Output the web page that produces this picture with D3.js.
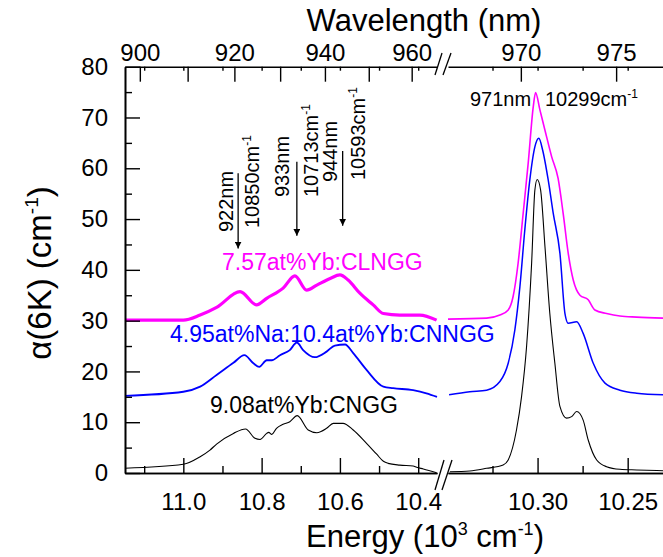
<!DOCTYPE html>
<html><head><meta charset="utf-8">
<script src="https://cdn.jsdelivr.net/npm/d3@7"></script>
<style>
body{margin:0;background:#fff}
text{font-family:"Liberation Sans",Arial,sans-serif;fill:#000}
</style>
</head><body>
<svg id="c" width="663" height="557"></svg>
<script>
// ---------- DATA (energy in 10^3 cm^-1, absorption in cm^-1) ----------
// left segment (broad bands)
const blackL_E = [11.149,11.000,10.957,10.932,10.915,10.872,10.841,10.817,10.804,10.787,10.782,10.774,10.762,10.745,10.728,10.709,10.681,10.659,10.634,10.617,10.592,10.566,10.532,10.506,10.489,10.477,10.447,10.413,10.404,10.387,10.353];
const blackL_V = [0.93,1.71,3.2,4.5,5.7,7.8,8.66,6.83,6.6,7.8,8.0,7.6,8.8,9.58,10.1,11.3,8.47,7.94,8.8,9.78,9.78,8.47,5.85,3.7,2.3,1.9,1.55,1.38,1.12,0.79,0.06];
const blueL_E = [11.149,11.000,10.957,10.915,10.872,10.844,10.821,10.806,10.787,10.774,10.753,10.728,10.710,10.694,10.664,10.634,10.613,10.587,10.566,10.532,10.489,10.464,10.413,10.379,10.352];
const blueL_V = [15.2,16.0,17.0,19.3,21.7,23.2,21.6,20.9,22.2,22.2,23.2,24.2,25.7,24.2,22.8,23.9,25.1,25.3,23.6,20.3,17.0,16.7,16.3,15.7,15.0];
const magL_E = [11.149,11.000,10.957,10.915,10.855,10.813,10.787,10.745,10.715,10.685,10.659,10.625,10.600,10.579,10.549,10.515,10.489,10.447,10.396,10.353];
const magL_V = [30.1,30.1,31.1,32.6,35.7,33.1,34.4,36.4,38.8,36.0,37.0,38.3,39.0,38.0,35.4,33.1,31.4,31.1,31.1,30.1];
// right segment (zero-phonon line)
const blackR_E = [10.3487,10.3376,10.3283,10.3191,10.3163,10.3117,10.3089,10.3061,10.3033,10.3015,10.3002,10.2983,10.2959,10.2932,10.2904,10.2876,10.2839,10.2811,10.2783,10.2747,10.2719,10.2672,10.2617,10.2543,10.2450,10.2304];
const blackR_V = [0.26,0.4,0.92,1.58,2.56,8.47,15.0,24.9,41.3,55.7,57.8,55.7,44.6,31.4,21.6,13.1,10.8,11.1,12.1,10.4,6.5,2.56,1.24,0.73,0.6,0.45];
const blueR_E = [10.3491,10.3376,10.3283,10.3209,10.3163,10.3126,10.3098,10.3071,10.3043,10.3015,10.2993,10.2972,10.2941,10.2913,10.2876,10.2848,10.2830,10.2783,10.2747,10.2691,10.2626,10.2543,10.2450,10.2304];
const blueR_V = [15.4,16.0,16.3,18.0,21.6,28.2,36.7,47.8,57.7,64.2,65.9,63.6,57.7,51.1,43.3,31.4,29.5,29.8,27.5,21.6,17.7,16.3,15.7,15.4];
const magR_E = [10.3497,10.3283,10.3209,10.3163,10.3136,10.3108,10.3080,10.3052,10.3024,10.3011,10.2987,10.2959,10.2922,10.2886,10.2858,10.2830,10.2802,10.2765,10.2719,10.2682,10.2617,10.2543,10.2450,10.2304];
const magR_V = [30.3,30.5,31.1,32.1,34.7,41.3,51.1,61.0,72.1,74.9,71.5,67.5,62.3,58.0,51.1,43.3,38.0,35.0,34.1,32.1,31.4,30.9,30.7,30.5];

// ticks
const yMajor = [0,10,20,30,40,50,60,70,80];
const yMinor = [5,15,25,35,45,55,65,75];
const xMajorL = [11.0,10.8,10.6,10.4];
const xMinorL = [11.1,10.9,10.7,10.5];
const xMajorR = [10.30,10.25];
const xMinorR = [10.325,10.275];
const wlTicksL = [900,910,920,930,940,950,960];
const wlLabelsL = [900,920,940,960];
const wlTicksR = [970,975];

// annotations
const arrowsE = [10.860,10.710,10.593];
const arrowsFrom = [59.0,61.3,63.4];
const arrowsTo = [44.2,46.7,48.7];

// ---------- SCALES ----------
const svg = d3.select("#c");
const yS = d3.scaleLinear().domain([0,80]).range([473,66.7]);
const xL = d3.scaleLinear().domain([11.149,10.352]).range([125,437]);
const xR = d3.scaleLinear().domain([10.3497,10.2304]).range([448,663]);
const yTop = 66.7, yBot = 473;

function styleAxis(g){
  g.selectAll("path.domain").attr("stroke","#000").attr("stroke-width",1.6);
  g.selectAll(".tick line").attr("stroke","#000").attr("stroke-width",1.4);
  g.selectAll("text").style("font-family","'Liberation Sans',Arial,sans-serif").attr("fill","#000");
}

// ---------- CURVES ----------
function drawCurve(xs, E, V, color, w){
  const pts = E.map((e,i)=>[e,V[i]]);
  const line = d3.line().x(d=>xs(d[0])).y(d=>yS(d[1])).curve(d3.curveMonotoneX);
  svg.append("path").attr("d",line(pts)).attr("fill","none")
    .attr("stroke",color).attr("stroke-width",w).attr("stroke-linejoin","round");
}
drawCurve(xL, magL_E, magL_V, "#ff00ff", 3.2);
drawCurve(xR, magR_E, magR_V, "#ff00ff", 1.6);
drawCurve(xL, blueL_E, blueL_V, "#0000ff", 1.8);
drawCurve(xR, blueR_E, blueR_V, "#0000ff", 1.5);
drawCurve(xL, blackL_E, blackL_V, "#000", 1.1);
drawCurve(xR, blackR_E, blackR_V, "#000", 1.1);

// ---------- AXES ----------
const fs = "24px";
let g;
g = svg.append("g").attr("transform",`translate(0,${yBot})`)
  .call(d3.axisBottom(xL).tickValues(xMajorL).tickSize(-15).tickSizeOuter(0).tickPadding(20).tickFormat(d3.format(".1f")));
styleAxis(g); g.selectAll("text").style("font-size",fs);
g = svg.append("g").attr("transform",`translate(0,${yBot})`)
  .call(d3.axisBottom(xL).tickValues(xMinorL).tickSize(-7).tickSizeOuter(0).tickFormat(""));
styleAxis(g);
g = svg.append("g").attr("transform",`translate(0,${yBot})`)
  .call(d3.axisBottom(xR).tickValues(xMajorR).tickSize(-15).tickSizeOuter(0).tickPadding(20).tickFormat(d3.format(".2f")));
styleAxis(g); g.selectAll("text").style("font-size",fs);
g = svg.append("g").attr("transform",`translate(0,${yBot})`)
  .call(d3.axisBottom(xR).tickValues(xMinorR).tickSize(-7).tickSizeOuter(0).tickFormat(""));
styleAxis(g);

// top (wavelength)
g = svg.append("g").attr("transform",`translate(0,${yTop})`)
  .call(d3.axisTop(xL).tickValues(wlTicksL.map(l=>1e4/l)).tickSize(-15).tickSizeOuter(0).tickPadding(6)
    .tickFormat(d=>{const l=Math.round(1e4/d);return wlLabelsL.includes(l)?String(l):"";}));
styleAxis(g); g.selectAll("text").style("font-size",fs);
g = svg.append("g").attr("transform",`translate(0,${yTop})`)
  .call(d3.axisTop(xR).tickValues(wlTicksR.map(l=>1e4/l)).tickSize(-15).tickSizeOuter(0).tickPadding(6)
    .tickFormat(d=>String(Math.round(1e4/d))));
styleAxis(g); g.selectAll("text").style("font-size",fs);
// small energy ticks mirrored on top
g = svg.append("g").attr("transform",`translate(0,${yTop})`)
  .call(d3.axisTop(xL).tickValues(xMajorL.concat(xMinorL)).tickSize(-4).tickSizeOuter(0).tickFormat(""));
styleAxis(g); g.select("path.domain").remove();
g = svg.append("g").attr("transform",`translate(0,${yTop})`)
  .call(d3.axisTop(xR).tickValues(xMajorR.concat(xMinorR)).tickSize(-4).tickSizeOuter(0).tickFormat(""));
styleAxis(g); g.select("path.domain").remove();

// left
g = svg.append("g").attr("transform",`translate(125,0)`)
  .call(d3.axisLeft(yS).tickValues(yMajor).tickSize(-15).tickSizeOuter(0).tickPadding(17));
styleAxis(g); g.selectAll("text").style("font-size",fs);
g = svg.append("g").attr("transform",`translate(125,0)`)
  .call(d3.axisLeft(yS).tickValues(yMinor).tickSize(-7).tickSizeOuter(0).tickFormat(""));
styleAxis(g);

// break marks
const brk = svg.append("g").attr("stroke","#000").attr("stroke-width",1.3);
[[435,490,444,460],[442,490,452,460],[435,75,442,53],[443,75,451,53]].forEach(s=>{
  brk.append("line").attr("x1",s[0]).attr("y1",s[1]).attr("x2",s[2]).attr("y2",s[3]);
});

// ---------- TITLES ----------
svg.append("text").attr("x",424).attr("y",31).attr("text-anchor","middle")
  .style("font-size","31px").text("Wavelength (nm)");
const et = svg.append("text").attr("x",425).attr("y",547).attr("text-anchor","middle").style("font-size","31px");
et.append("tspan").text("Energy (10");
et.append("tspan").attr("dy",-12).style("font-size","18px").text("3");
et.append("tspan").attr("dy",12).text(" cm");
et.append("tspan").attr("dy",-12).style("font-size","18px").text("-1");
et.append("tspan").attr("dy",12).text(")");
const yt = svg.append("text").attr("transform","translate(51,273) rotate(-90)").attr("text-anchor","middle").style("font-size","33px");
yt.append("tspan").text("α(6K) (cm");
yt.append("tspan").attr("dy",-13).style("font-size","19px").text("-1");
yt.append("tspan").attr("dy",13).text(")");

// ---------- SERIES LABELS ----------
svg.append("text").attr("x",222).attr("y",270).style("font-size","23px").style("fill","#ff00ff").text("7.57at%Yb:CLNGG");
svg.append("text").attr("x",170).attr("y",342).style("font-size","23px").style("fill","#0000ff").text("4.95at%Na:10.4at%Yb:CNNGG");
svg.append("text").attr("x",210).attr("y",413).style("font-size","23px").text("9.08at%Yb:CNGG");

// ---------- ARROWS ----------
const defs = svg.append("defs");
defs.append("marker").attr("id","ah").attr("viewBox","0 0 10 10").attr("refX",10).attr("refY",5)
  .attr("markerWidth",7).attr("markerHeight",7).attr("markerUnits","userSpaceOnUse").attr("orient","auto")
  .append("path").attr("d","M0,0 L10,5 L0,10 Z").attr("fill","#000");
arrowsE.forEach((e,i)=>{
  svg.append("line").attr("x1",xL(e)).attr("x2",xL(e)).attr("y1",yS(arrowsFrom[i])).attr("y2",yS(arrowsTo[i]))
    .attr("stroke","#000").attr("stroke-width",1.3).attr("marker-end","url(#ah)");
});
function rotLabel(x,y,main,sup){
  const t = svg.append("text").attr("transform",`translate(${x},${y}) rotate(-90)`).style("font-size","20px");
  t.append("tspan").text(main);
  if(sup){ t.append("tspan").attr("dy",-8).style("font-size","12px").text(sup); }
}
rotLabel(233,232,"922nm");
rotLabel(259,228,"10850cm","-1");
rotLabel(289,197,"933nm");
rotLabel(318,197,"10713cm","-1");
rotLabel(337,182,"944nm");
rotLabel(365,180,"10593cm","-1");

const pk = svg.append("text").attr("x",470).attr("y",106).style("font-size","20px");
pk.append("tspan").text("971nm");
pk.append("tspan").attr("x",545).text("10299cm");
pk.append("tspan").attr("dy",-8).style("font-size","12px").text("-1");
</script>
</body></html>
